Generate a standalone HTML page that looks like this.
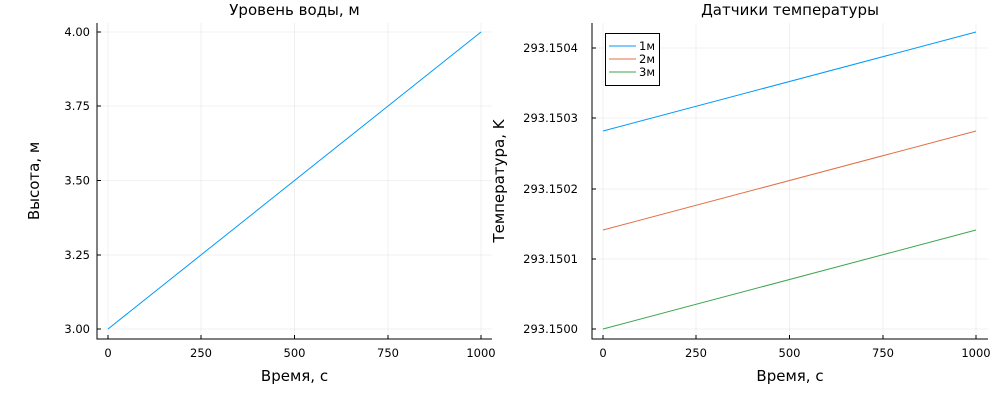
<!DOCTYPE html><html><head><meta charset="utf-8"><style>body{margin:0;background:#fff}svg{display:block}text{font-family:"DejaVu Sans",sans-serif;fill:#000}</style></head><body>
<svg width="1000" height="400" xmlns="http://www.w3.org/2000/svg">
<g stroke="#000" stroke-opacity="0.1" stroke-width="0.6">
<line x1="108" y1="23" x2="108" y2="339"/><line x1="201" y1="23" x2="201" y2="339"/><line x1="294.5" y1="23" x2="294.5" y2="339"/><line x1="388" y1="23" x2="388" y2="339"/><line x1="481" y1="23" x2="481" y2="339"/>
<line x1="97" y1="329" x2="492" y2="329"/><line x1="97" y1="255" x2="492" y2="255"/><line x1="97" y1="180.5" x2="492" y2="180.5"/><line x1="97" y1="106" x2="492" y2="106"/><line x1="97" y1="32" x2="492" y2="32"/>
<line x1="603" y1="23" x2="603" y2="339"/><line x1="696" y1="23" x2="696" y2="339"/><line x1="789.5" y1="23" x2="789.5" y2="339"/><line x1="883" y1="23" x2="883" y2="339"/><line x1="976" y1="23" x2="976" y2="339"/>
<line x1="592" y1="329" x2="988" y2="329"/><line x1="592" y1="259" x2="988" y2="259"/><line x1="592" y1="189" x2="988" y2="189"/><line x1="592" y1="118" x2="988" y2="118"/><line x1="592" y1="48" x2="988" y2="48"/>
</g>
<g stroke="#000" stroke-width="1">
<line x1="97" y1="23" x2="97" y2="339.5"/><line x1="96.5" y1="339" x2="492" y2="339"/>
<line x1="592" y1="23" x2="592" y2="339.5"/><line x1="591.5" y1="339" x2="988" y2="339"/>
<path d="M97 329h4M97 255h4M97 180.5h4M97 106h4M97 32h4M108 339v-4M201 339v-4M294.5 339v-4M388 339v-4M481 339v-4"/>
<path d="M592 329h4M592 259h4M592 189h4M592 118h4M592 48h4M603 339v-4M696 339v-4M789.5 339v-4M883 339v-4M976 339v-4"/>
</g>
<line x1="108" y1="329" x2="481" y2="32" stroke="#009AFA" stroke-width="1"/>
<line x1="603" y1="131" x2="976" y2="32" stroke="#009AFA" stroke-width="1"/>
<line x1="603" y1="230" x2="976" y2="131" stroke="#E26F46" stroke-width="1"/>
<line x1="603" y1="329" x2="976" y2="230" stroke="#3EA44E" stroke-width="1"/>
<g font-size="11.5" text-anchor="end">
<text x="90" y="333">3.00</text><text x="90" y="259">3.25</text><text x="90" y="184.5">3.50</text><text x="90" y="110">3.75</text><text x="90" y="36">4.00</text>
<text x="578" y="333">293.1500</text><text x="578" y="263">293.1501</text><text x="578" y="193">293.1502</text><text x="578" y="122">293.1503</text><text x="578" y="52">293.1504</text>
</g>
<g font-size="11.5" text-anchor="middle">
<text x="108" y="357">0</text><text x="201" y="357">250</text><text x="294.5" y="357">500</text><text x="388" y="357">750</text><text x="481" y="357">1000</text>
<text x="603" y="357">0</text><text x="696" y="357">250</text><text x="789.5" y="357">500</text><text x="883" y="357">750</text><text x="976" y="357">1000</text>
</g>
<g font-size="15" text-anchor="middle">
<text x="294.5" y="15">Уровень воды, м</text><text x="790" y="15">Датчики температуры</text>
<text x="294.5" y="381">Время, с</text><text x="790" y="381">Время, с</text>
<text transform="translate(39 181) rotate(-90)">Высота, м</text>
<text transform="translate(504 181) rotate(-90)">Температура, K</text>
</g>
<rect x="605.5" y="33.5" width="54" height="52" fill="#fff" stroke="#000" stroke-width="1"/>
<line x1="609" y1="46" x2="636" y2="46" stroke="#009AFA"/><line x1="609" y1="59" x2="636" y2="59" stroke="#E26F46"/><line x1="609" y1="72" x2="636" y2="72" stroke="#3EA44E"/>
<g font-size="11.5"><text x="639" y="50">1м</text><text x="639" y="63">2м</text><text x="639" y="76">3м</text></g>
</svg></body></html>
